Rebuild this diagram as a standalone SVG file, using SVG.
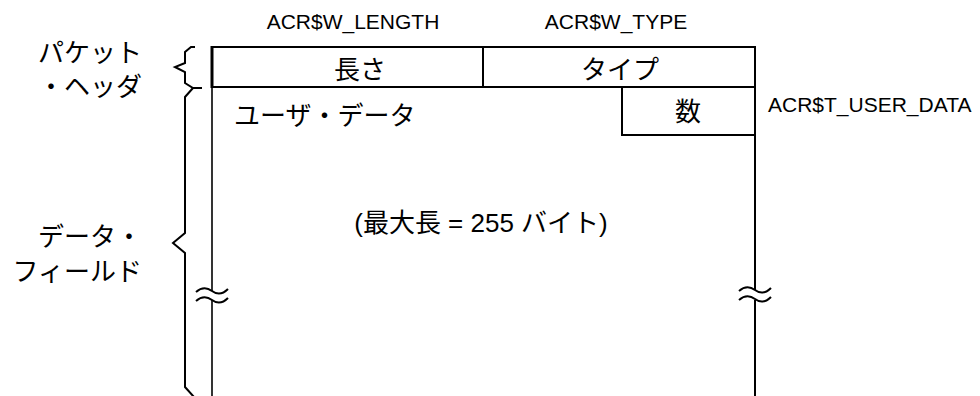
<svg xmlns="http://www.w3.org/2000/svg" width="980" height="396" viewBox="0 0 980 396">
<style>
  .ln{fill:none;stroke:#000;stroke-width:2}
  .thin{fill:none;stroke:#000;stroke-width:1.6}
  .lat{font-family:"Liberation Sans",Arial,"Noto Sans CJK JP",sans-serif;font-size:21px;fill:#000}
  .jp{font-family:"Liberation Sans","Noto Sans CJK JP",sans-serif;font-size:26px;fill:#000}
</style>
<rect width="980" height="396" fill="#fff"/>
<g id="header">
  <g id="field-length">
    <rect x="212" y="47" width="271" height="40" class="ln"/>
    <line x1="212" y1="46" x2="212" y2="88" stroke="#000" stroke-width="3"/>
    <text x="360" y="79" class="jp" text-anchor="middle">長さ</text>
    <text x="353" y="29" class="lat" text-anchor="middle">ACR$W_LENGTH</text>
  </g>
  <g id="field-type">
    <rect x="483" y="47" width="272" height="40" class="ln"/>
    <text x="620" y="79" class="jp" text-anchor="middle">タイプ</text>
    <text x="616" y="29" class="lat" text-anchor="middle">ACR$W_TYPE</text>
  </g>
</g>
<g id="data-field">
  <line x1="212" y1="87" x2="212" y2="291" class="thin"/>
  <line x1="212" y1="300" x2="212" y2="396" class="thin"/>
  <line x1="755" y1="87" x2="755" y2="290" class="ln"/>
  <line x1="755" y1="300" x2="755" y2="396" class="ln"/>
  <text x="234" y="125" class="jp">ユーザ・データ</text>
  <text x="481" y="232" class="jp" text-anchor="middle">(最大長 = 255 バイト)</text>
  <path class="ln" d="M196,292 Q204,285 212,291 Q220,297 228,289"/>
  <path class="ln" d="M196,301 Q204,294 212,300 Q220,306 228,298"/>
  <path class="ln" d="M739,291 Q747,284 755,290 Q763,296 771,288"/>
  <path class="ln" d="M739,300 Q747,293 755,299 Q763,305 771,297"/>
</g>
<g id="field-count">
  <path class="ln" d="M622,87 V135 H755"/>
  <text x="688" y="121" class="jp" text-anchor="middle">数</text>
  <text x="768" y="112" class="lat">ACR$T_USER_DATA</text>
</g>
<g id="label-header">
  <path class="ln" d="M195,47 H191 L185,52 V63 L175,67 L185,72 V83 L193,88 H202"/>
  <text x="142" y="62" class="jp" text-anchor="end">パケット</text>
  <text x="142" y="96" class="jp" text-anchor="end">・ヘッダ</text>
</g>
<g id="label-data">
  <path class="ln" d="M193,88 L185,97 V233 L173,243 L185,253 V387 L194,397"/>
  <text x="142" y="246" class="jp" text-anchor="end">データ・</text>
  <text x="142" y="281" class="jp" text-anchor="end">フィールド</text>
</g>
</svg>
